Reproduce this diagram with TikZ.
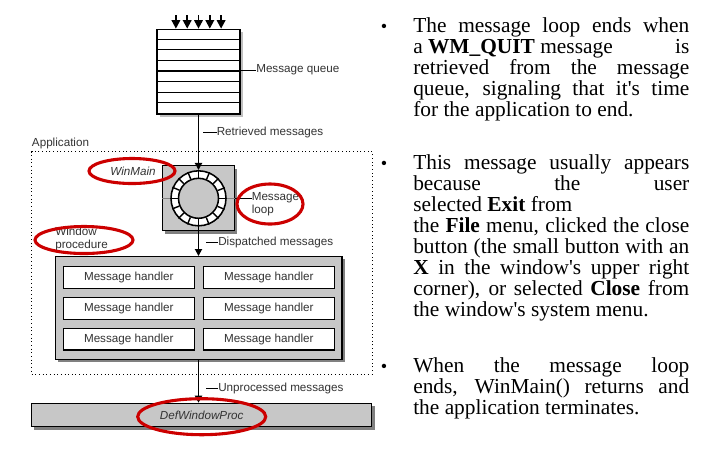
\documentclass[tikz,border=0pt]{standalone}
\usepackage{fontspec}
\setmainfont{Liberation Serif}
\newfontfamily\diagfont{Liberation Sans}
\usetikzlibrary{arrows.meta,positioning,shapes.geometric,shadows}

\begin{document}
\begin{tikzpicture}[x=0.025cm,y=-0.025cm,>={Triangle[length=5pt,width=5pt]},
 font=\diagfont\fontsize{8.3}{8.8}\selectfont,
 lab/.style={text=black!80,inner sep=0pt,anchor=west},
 tick/.style={line width=0.6pt},
 flow/.style={->,line width=1.3pt},
 shd/.style={drop shadow={shadow xshift=2pt,shadow yshift=-2pt,opacity=1,fill=black!50}},
 gbox/.style={draw,line width=0.8pt,fill=black!22,shd,inner sep=0pt},
 hand/.style={draw,line width=0.9pt,fill=white,minimum width=3.275cm,minimum height=0.54cm,inner sep=0pt,text=black!80},
 redring/.style={draw=red!80!black,line width=2.2pt,ellipse,inner sep=0pt},
 para/.style={font=\rmfamily\fontsize{15.2}{14.94}\selectfont,text width=6.9cm,align=justify,inner sep=0pt,anchor=base west},
 bul/.style={font=\rmfamily\fontsize{13}{13}\selectfont,inner sep=0pt,anchor=base west}]
\path[use as bounding box,fill=white] (0,0) rectangle (720,450);

% application frame
\node[draw,dotted,line width=0.6pt,minimum width=8.51cm,minimum height=5.56cm,inner sep=0pt] (app) at (201.85,262.85) {};
\node[lab] (applab) at (31.7,143) {Application};

% message queue
\node[draw,line width=0.9pt,fill=white,minimum width=2.07cm,minimum height=2.12cm,inner sep=0pt,
  drop shadow={shadow xshift=2pt,shadow yshift=-2pt,opacity=1,fill=black!25}] (queue) at (198.5,71.7) {};
\foreach \k in {1,...,7}
  \draw[line width=0.9pt] (queue.north west) ++(0,\k*10.59) -- ++(82.7,0);
\foreach \i in {-2,...,2}{
  \coordinate (drop\i) at (198.5+\i*11.3,15);
  \draw[flow,-{Triangle[length=6pt,width=6pt]}] (drop\i) -- (drop\i |- queue.north);
}
\node[lab] (qlab) at (256,70) {Message queue};
\draw[tick] (queue.east |- qlab) -- (qlab.west);

% message loop
\node[gbox,minimum width=1.8cm,minimum height=1.62cm] (lbox) at (198.5,198.3) {};
\node[circle,draw,line width=1.1pt,fill=white,minimum size=1.375cm,inner sep=0pt] (ring) at (lbox) {};
\node[circle,draw,line width=1.1pt,fill=black!22,minimum size=1.0cm,inner sep=0pt] (hub) at (lbox) {};
\foreach \a in {0,22.5,...,337.5}
  \draw[line width=1pt] (ring.\a) -- (hub.\a);
\draw[gray,line width=0.6pt] (lbox.west) -- (ring.west) (ring.east) -- (lbox.east);
\draw[flow] (queue.south) -- (ring.north);
\node[lab] (retr) at (216.5,132) {Retrieved messages};
\draw[tick] (retr.west) -- ++(-14,0);

% window procedure
\node[gbox,minimum width=7.17cm,minimum height=2.57cm] (panel) at (198.5,308) {};
\foreach \r/\y in {1/277.5,2/308.5,3/339.2}
  \foreach \c/\x in {1/128.8,2/268.8}
    \node[hand] (h\r\c) at (\x,\y) {Message handler};
\draw[flow] (ring.south) -- (panel.north);
\node[lab] (disp) at (218,242) {Dispatched messages};
\draw[tick] (disp.west) -- ++(-12,0);

% default procedure
\node[gbox,minimum width=8.5cm,minimum height=0.585cm,text=black!80] (defwp) at (201.7,415) {\itshape DefWindowProc};
\draw[flow] (panel.south) -- (panel.south |- defwp.north);
\node[lab] (unproc) at (218,388) {Unprocessed messages};
\draw[tick] (unproc.west) -- ++(-12,0);

% red marks
\node[lab,anchor=center] (winmain) at (133,171) {\itshape WinMain};
\node[redring,minimum width=2.15cm,minimum height=0.625cm] (wmring) at (132,171) {};
\node[lab,align=left] (looptxt) at (251.5,204) {Message\\loop};
\draw[tick] (lbox.east) -- (looptxt.west |- lbox.east);
\node[redring,minimum width=1.65cm,minimum height=1.0cm] (loopring) at (270,204) {};
\node[lab,align=left] (wproc) at (55,239) {Window\\procedure};
\node[redring,minimum width=2.45cm,minimum height=0.675cm] (wpring) at (84,240) {};
\node[redring,minimum width=3.2cm,minimum height=0.9cm] (dwring) at (201.7,416.7) {};

% notes
\node[bul] (b1) at (380.5,32.5) {\textbullet};
\node[para] (p1) at (413,32.5) {The message loop ends when\linebreak
 a \textbf{WM\_QUIT} message\hfill is\linebreak
 retrieved from the message\linebreak
 queue, signaling that it\textquotesingle s time\linebreak
 for the application to end.};
\node[bul] (b2) at (380.5,169.5) {\textbullet};
\node[para] (p2) at (413,169.5) {This message usually appears\linebreak
 because the user\linebreak
 selected \textbf{Exit} from\\
 the \textbf{File} menu, clicked the close\linebreak
 button (the small button with an\linebreak
 \textbf{X} in the window\textquotesingle s upper right\linebreak
 corner), or selected \textbf{Close} from\linebreak
 the window\textquotesingle s system menu.};
\node[bul] (b3) at (380.5,372) {\textbullet};
\node[para] (p3) at (413,372) {When the message loop\linebreak
 ends, WinMain() returns and\linebreak
 the application terminates.};
\end{tikzpicture}
\end{document}
